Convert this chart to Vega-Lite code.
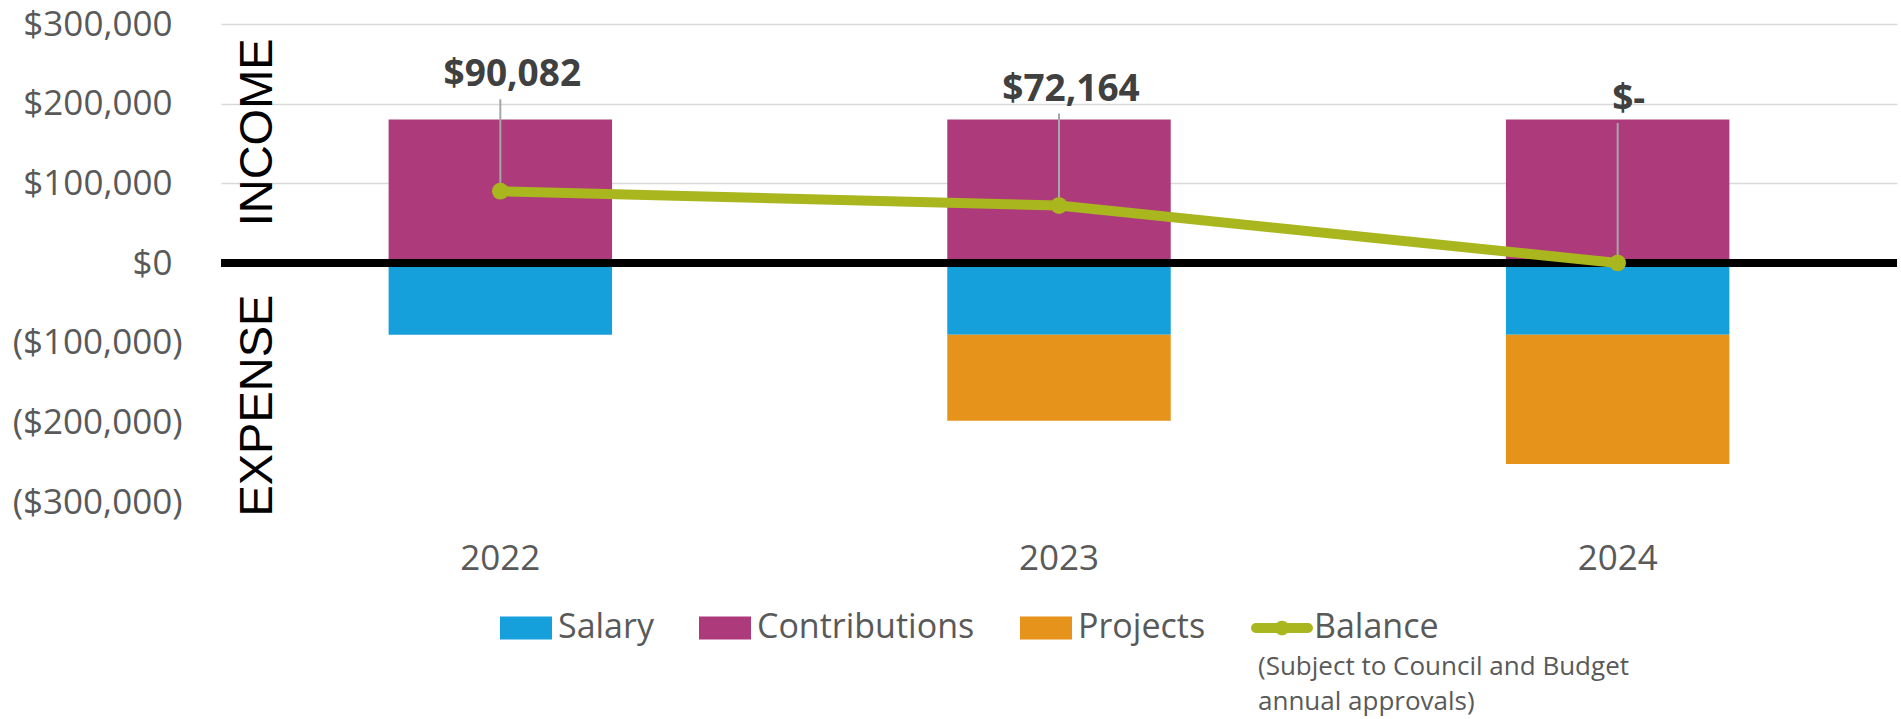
{
  "$schema": "https://vega.github.io/schema/vega-lite/v6.json",
  "width": 1676,
  "height": 478,
  "autosize": {"type": "none"},
  "padding": {"left": 221, "top": 24, "right": 4, "bottom": 217},
  "background": "white",
  "config": {
    "view": {"stroke": null},
    "font": "Open Sans",
    "axisY": {
      "title": null,
      "domain": false,
      "ticks": false,
      "grid": true,
      "gridColor": "#D9D9D9",
      "gridWidth": 1.5,
      "labelFontSize": 35,
      "labelColor": "#595959",
      "labelFont": "Open Sans"
    }
  },
  "resolve": {"axis": {"y": "independent"}},
  "title": {
    "text": ["(Subject to Council and Budget", "annual approvals)"],
    "orient": "bottom",
    "anchor": "start",
    "align": "left",
    "dx": 1037,
    "offset": 9,
    "fontSize": 26,
    "fontWeight": "normal",
    "color": "#595959",
    "font": "Open Sans",
    "lineHeight": 35,
    "frame": "group",
    "baseline": "top"
  },
  "datasets": {
    "bars": [
      {"year": "2022", "category": "Salary", "amount": -89918},
      {"year": "2022", "category": "Contributions", "amount": 180000},
      {"year": "2022", "category": "Projects", "amount": 0},
      {"year": "2023", "category": "Salary", "amount": -89918},
      {"year": "2023", "category": "Contributions", "amount": 180000},
      {"year": "2023", "category": "Projects", "amount": -108000},
      {"year": "2024", "category": "Salary", "amount": -89918},
      {"year": "2024", "category": "Contributions", "amount": 180000},
      {"year": "2024", "category": "Projects", "amount": -162246}
    ],
    "balance": [
      {"year": "2022", "balance": 90082, "label": "$90,082"},
      {"year": "2023", "balance": 72164, "label": "$72,164"},
      {"year": "2024", "balance": 0, "label": "$-"}
    ]
  },
  "layer": [
    {
      "data": {"name": "bars"},
      "mark": {"type": "bar"},
      "encoding": {
        "x": {
          "field": "year",
          "type": "nominal",
          "scale": {"paddingInner": 0.6, "paddingOuter": 0.3},
          "axis": {
            "title": null,
            "labelAngle": 0,
            "ticks": false,
            "domain": false,
            "grid": false,
            "labelFontSize": 35,
            "labelColor": "#595959",
            "labelFont": "Open Sans",
            "labelPadding": 39
          }
        },
        "y": {
          "field": "amount",
          "type": "quantitative",
          "stack": "zero",
          "scale": {"domain": [-300000, 300000], "nice": false},
          "axis": {
            "orient": "left",
            "values": [0, 100000, 200000, 300000],
            "format": "$,.0f",
            "labelPadding": 49
          }
        },
        "color": {
          "field": "category",
          "type": "nominal",
          "scale": {
            "domain": ["Salary", "Contributions", "Projects", "Balance"],
            "range": ["#16A0DB", "#AD3B7B", "#E6931C", "#AAB61E"]
          },
          "legend": {
            "orient": "none",
            "legendX": 279,
            "legendY": 578,
            "direction": "horizontal",
            "title": null,
            "padding": 0,
            "labelFontSize": 34,
            "labelColor": "#595959",
            "labelFont": "Open Sans",
            "labelLimit": 0,
            "symbolSize": 2704,
            "symbolType": "M-1,-0.44H1V0.44H-1Z",
            "symbolStrokeWidth": 0,
            "columnPadding": 45,
            "labelOffset": 6,
            "encode": {
              "symbols": {
                "update": {
                  "shape": {"signal": "datum.value === 'Balance' ? 'M-1,-0.19H1A0.19,0.19 0 0,1 1,0.19H-1A0.19,0.19 0 0,1 -1,-0.19Z M-0.28,0A0.28,0.28 0 1,1 0.28,0A0.28,0.28 0 1,1 -0.28,0Z' : 'M-1,-0.44H1V0.44H-1Z'"},
                  "fill": {"scale": "color", "field": "value"},
                  "opacity": {"value": 1}
                }
              }
            }
          }
        },
        "order": {"field": "category", "sort": "descending"}
      }
    },
    {
      "data": {"values": [{}]},
      "mark": {"type": "rule", "color": "#000000", "strokeWidth": 8},
      "encoding": {"y": {"datum": 0, "axis": null}}
    },
    {
      "data": {"name": "balance"},
      "transform": [{"filter": "datum.year != '2024'"}],
      "mark": {"type": "rule", "color": "#A6A6A6", "strokeWidth": 2, "y2Offset": -92},
      "encoding": {
        "x": {"field": "year", "type": "nominal"},
        "y": {"field": "balance", "type": "quantitative", "axis": null},
        "y2": {"field": "balance"}
      }
    },
    {
      "data": {"name": "balance"},
      "transform": [{"filter": "datum.year == '2024'"}],
      "mark": {"type": "rule", "color": "#A6A6A6", "strokeWidth": 2, "y2Offset": -140},
      "encoding": {
        "x": {"field": "year", "type": "nominal"},
        "y": {"field": "balance", "type": "quantitative", "axis": null},
        "y2": {"field": "balance"}
      }
    },
    {
      "data": {"name": "balance"},
      "mark": {
        "type": "line",
        "color": "#AAB61E",
        "strokeWidth": 10,
        "point": {"filled": true, "size": 280, "color": "#AAB61E"}
      },
      "encoding": {
        "x": {"field": "year", "type": "nominal"},
        "y": {
          "field": "balance",
          "type": "quantitative",
          "axis": {
            "orient": "left",
            "values": [-300000, -200000, -100000],
            "format": "($,.0f",
            "labelPadding": 39
          }
        }
      }
    },
    {
      "data": {"name": "balance"},
      "transform": [{"filter": "datum.year != '2024'"}],
      "mark": {
        "type": "text",
        "fontSize": 37,
        "fontWeight": "bold",
        "font": "Open Sans",
        "color": "#404040",
        "baseline": "alphabetic",
        "align": "center",
        "dy": -105,
        "dx": 12
      },
      "encoding": {
        "x": {"field": "year", "type": "nominal"},
        "y": {"field": "balance", "type": "quantitative", "axis": null},
        "text": {"field": "label"}
      }
    },
    {
      "data": {"name": "balance"},
      "transform": [{"filter": "datum.year == '2024'"}],
      "mark": {
        "type": "text",
        "fontSize": 37,
        "fontWeight": "bold",
        "font": "Open Sans",
        "color": "#404040",
        "baseline": "alphabetic",
        "align": "center",
        "dy": -152,
        "dx": 11
      },
      "encoding": {
        "x": {"field": "year", "type": "nominal"},
        "y": {"field": "balance", "type": "quantitative", "axis": null},
        "text": {"field": "label"}
      }
    },
    {
      "data": {"values": [{}]},
      "mark": {
        "type": "text",
        "text": "INCOME",
        "angle": 270,
        "font": "Liberation Sans",
        "fontSize": 47,
        "color": "#000000",
        "align": "center",
        "baseline": "middle",
        "xOffset": -242
      },
      "encoding": {"x": {"datum": "2022"}, "y": {"datum": 164000, "axis": null}}
    },
    {
      "data": {"values": [{}]},
      "mark": {
        "type": "text",
        "text": "EXPENSE",
        "angle": 270,
        "font": "Liberation Sans",
        "fontSize": 47,
        "color": "#000000",
        "align": "center",
        "baseline": "middle",
        "xOffset": -242
      },
      "encoding": {"x": {"datum": "2022"}, "y": {"datum": -179000, "axis": null}}
    }
  ]
}
